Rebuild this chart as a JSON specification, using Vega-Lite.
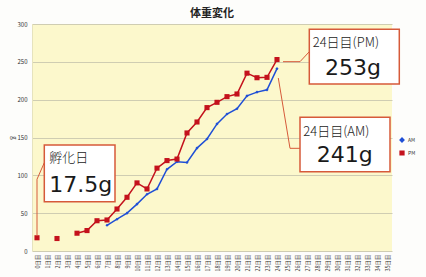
{
  "$schema": "https://vega.github.io/schema/vega-lite/v6.json",
  "width": 360,
  "height": 227,
  "autosize": {"type": "none"},
  "padding": {"left": 32, "top": 24, "right": 34, "bottom": 26},
  "background": "#fdfdfb",
  "title": {"text": "体重変化", "font": "Noto Sans CJK JP", "fontSize": 11, "fontWeight": "bold", "color": "#222222", "offset": 2, "anchor": "middle"},
  "config": {
    "view": {"fill": "#fcf8cc", "stroke": null},
    "font": "Noto Sans CJK JP",
    "axisY": {"labelFontSize": 6, "labelColor": "#333333", "gridColor": "#cfcdb2", "gridWidth": 1, "domainColor": "#e6e3bd", "ticks": false, "labelPadding": 5, "titleFontSize": 6, "titleFontWeight": "normal", "titleColor": "#333333", "titleAngle": 90, "titlePadding": 7},
    "axisX": {"labelFontSize": 5.5, "labelColor": "#333333", "grid": false, "domain": false, "ticks": false, "labelPadding": 3, "labelAngle": -90},
    "legend": {"orient": "none", "legendX": 367, "legendY": 113, "labelFontSize": 5, "labelColor": "#333333", "symbolSize": 14, "rowPadding": 3, "labelOffset": 3, "symbolStrokeWidth": 1.5}
  },
  "datasets": {
    "series": [
      {"series": "AM", "day": 7, "value": 34},
      {"series": "AM", "day": 8, "value": 42},
      {"series": "AM", "day": 9, "value": 50},
      {"series": "AM", "day": 10, "value": 62},
      {"series": "AM", "day": 11, "value": 75},
      {"series": "AM", "day": 12, "value": 82},
      {"series": "AM", "day": 13, "value": 108},
      {"series": "AM", "day": 14, "value": 118},
      {"series": "AM", "day": 15, "value": 117},
      {"series": "AM", "day": 16, "value": 136},
      {"series": "AM", "day": 17, "value": 148},
      {"series": "AM", "day": 18, "value": 168},
      {"series": "AM", "day": 19, "value": 181},
      {"series": "AM", "day": 20, "value": 188},
      {"series": "AM", "day": 21, "value": 205},
      {"series": "AM", "day": 22, "value": 210},
      {"series": "AM", "day": 23, "value": 213},
      {"series": "AM", "day": 24, "value": 241},
      {"series": "PM", "day": 0, "value": 17.5},
      {"series": "PM", "day": 2, "value": 16.5},
      {"series": "PM", "day": 4, "value": 23.5},
      {"series": "PM", "day": 5, "value": 27},
      {"series": "PM", "day": 6, "value": 40},
      {"series": "PM", "day": 7, "value": 41},
      {"series": "PM", "day": 8, "value": 55.5},
      {"series": "PM", "day": 9, "value": 71},
      {"series": "PM", "day": 10, "value": 90},
      {"series": "PM", "day": 11, "value": 82},
      {"series": "PM", "day": 12, "value": 109.5},
      {"series": "PM", "day": 13, "value": 119.5},
      {"series": "PM", "day": 14, "value": 121.5},
      {"series": "PM", "day": 15, "value": 156},
      {"series": "PM", "day": 16, "value": 170.5},
      {"series": "PM", "day": 17, "value": 189.5},
      {"series": "PM", "day": 18, "value": 196.5},
      {"series": "PM", "day": 19, "value": 204},
      {"series": "PM", "day": 20, "value": 207.5},
      {"series": "PM", "day": 21, "value": 235},
      {"series": "PM", "day": 22, "value": 229},
      {"series": "PM", "day": 23, "value": 229.5},
      {"series": "PM", "day": 24, "value": 253}
    ],
    "leaders": [
      {"id": "hatch", "k": 1, "day": 0, "value": 19.8},
      {"id": "hatch", "k": 2, "day": 0, "value": 94.8},
      {"id": "hatch", "k": 3, "day": 0.73, "value": 116.7},
      {"id": "pm", "k": 1, "day": 24.6, "value": 250.2},
      {"id": "pm", "k": 2, "day": 26.3, "value": 250.2},
      {"id": "pm", "k": 3, "day": 27.23, "value": 263.4},
      {"id": "am", "k": 1, "day": 24.13, "value": 228.6},
      {"id": "am", "k": 2, "day": 25.3, "value": 135.7},
      {"id": "am", "k": 3, "day": 26.3, "value": 135.7}
    ],
    "boxes": [
      {"id": "hatch", "day": 0.73, "day2": 7.8, "value": 140, "value2": 65.2},
      {"id": "pm", "day": 27.23, "day2": 36.23, "value": 293, "value2": 220.7},
      {"id": "am", "day": 26.3, "day2": 35.3, "value": 176.7, "value2": 104.8}
    ],
    "small": [
      {"t": "孵化日", "day": 1.23, "value": 117.6},
      {"t": "24日目(PM)", "day": 27.57, "value": 269},
      {"t": "24日目(AM)", "day": 26.63, "value": 152.5}
    ],
    "big": [
      {"t": "17.5g", "day": 1.23, "value": 78.4},
      {"t": "253g", "day": 28.8, "value": 232.6},
      {"t": "241g", "day": 27.97, "value": 117.5}
    ]
  },
  "encoding": {
    "x": {"field": "day", "type": "quantitative", "scale": {"domain": [-0.5, 35.5], "nice": false, "zero": false}, "title": null,
          "axis": {"values": [0,1,2,3,4,5,6,7,8,9,10,11,12,13,14,15,16,17,18,19,20,21,22,23,24,25,26,27,28,29,30,31,32,33,34,35], "labelExpr": "datum.value + '日目'", "labelOverlap": false, "labelAlign": "right", "labelBaseline": "middle", "labelBound": false}},
    "y": {"field": "value", "type": "quantitative", "scale": {"domain": [0, 300], "nice": false}, "title": "g", "axis": {"values": [0, 50, 100, 150, 200, 250, 300], "labelOverlap": false}}
  },
  "layer": [
    {
      "data": {"name": "series"},
      "transform": [{"filter": "datum.day >= 4"}],
      "mark": {"type": "line", "strokeWidth": 1.5, "clip": false},
      "encoding": {
        "color": {"field": "series", "type": "nominal", "scale": {"domain": ["AM", "PM"], "range": ["#1f4fd6", "#c4121c"]}, "legend": {"title": null}},
        "detail": {"field": "series"}
      }
    },
    {
      "data": {"name": "series"},
      "mark": {"type": "point", "filled": true, "opacity": 1, "clip": false},
      "encoding": {
        "color": {"field": "series", "type": "nominal", "legend": {"title": null}},
        "shape": {"field": "series", "type": "nominal", "scale": {"domain": ["AM", "PM"], "range": ["diamond", "square"]}, "legend": {"title": null}},
        "size": {"condition": {"test": "datum.series === 'AM'", "value": 10}, "value": 26}
      }
    },
    {
      "data": {"name": "leaders"},
      "mark": {"type": "line", "color": "#d65a3a", "strokeWidth": 1, "clip": false},
      "encoding": {
        "detail": {"field": "id"},
        "order": {"field": "k"}
      }
    },
    {
      "data": {"name": "boxes"},
      "mark": {"type": "rect", "fill": "#ffffff", "stroke": "#d65a3a", "strokeWidth": 1.5, "clip": false},
      "encoding": {
        "x2": {"field": "day2"},
        "y2": {"field": "value2"}
      }
    },
    {
      "data": {"name": "small"},
      "mark": {"type": "text", "align": "left", "baseline": "alphabetic", "fontSize": 13, "fontWeight": 300, "color": "#1a1a1a", "font": "Noto Sans CJK JP", "clip": false},
      "encoding": {
        "text": {"field": "t"}
      }
    },
    {
      "data": {"name": "big"},
      "mark": {"type": "text", "align": "left", "baseline": "alphabetic", "fontSize": 22, "color": "#1a1a1a", "font": "DejaVu Sans", "clip": false},
      "encoding": {
        "text": {"field": "t"}
      }
    }
  ]
}
